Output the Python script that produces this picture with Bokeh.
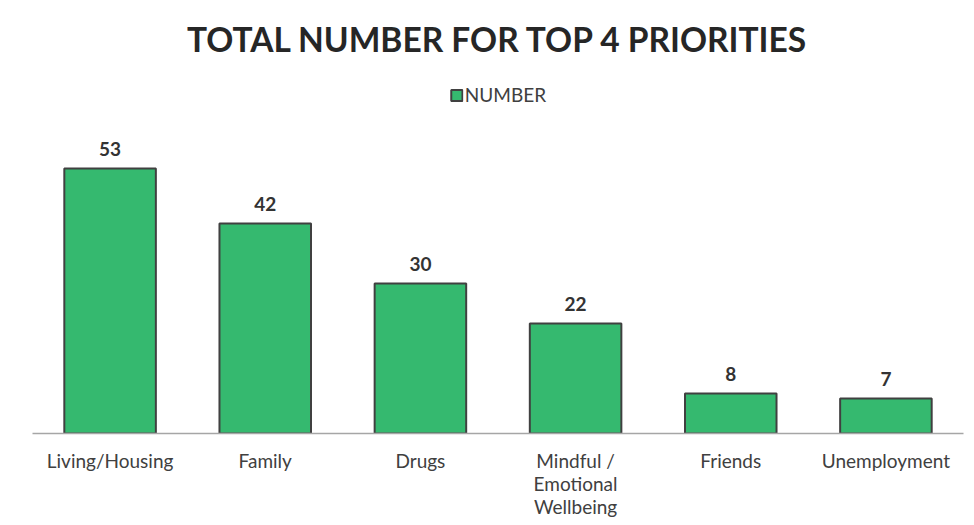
from bokeh.plotting import figure
from bokeh.models import Range1d, FactorRange, Legend, LegendItem, ColumnDataSource, Label
from bokeh.core.properties import value
from bokeh.embed import file_html
from bokeh.resources import INLINE

categories = ["Living/Housing", "Family", "Drugs", "Mindful /\nEmotional\nWellbeing", "Friends", "Unemployment"]
numbers = [53, 42, 30, 22, 8, 7]
series_name = "NUMBER"
title_text = "TOTAL NUMBER FOR TOP 4 PRIORITIES"

FONT = "Lato"
GREEN = "#35b96f"
DARK = "#404040"

src = ColumnDataSource(dict(cat=categories, num=numbers, lbl=[str(v) for v in numbers]))

p = figure(width=972, height=525, x_range=FactorRange(*categories), y_range=Range1d(0, 86.6),
           output_backend="svg", toolbar_location=None,
           min_border_left=32, min_border_right=9, min_border_top=0, min_border_bottom=92)
p.outline_line_color = None
p.background_fill_color = "white"
p.border_fill_color = "white"
p.xgrid.visible = False
p.ygrid.visible = False
p.yaxis.visible = False

r = p.vbar(x="cat", top="num", width=0.59, source=src, fill_color=GREEN,
           line_color=DARK, line_width=2)

p.text(x="cat", y="num", text="lbl", source=src, y_offset=-13,
       text_align="center", text_baseline="bottom",
       text_font=value(FONT), text_font_style="bold", text_font_size="19px", text_color="#333333")

ax = p.xaxis[0]
ax.axis_line_color = "#a6a6a6"
ax.axis_line_width = 1.5
ax.major_tick_line_color = None
ax.minor_tick_line_color = None
ax.major_tick_out = 0
ax.major_tick_in = 0
ax.major_label_text_font = FONT
ax.major_label_text_font_size = "19px"
ax.major_label_text_line_height = 1.0
ax.major_label_text_color = DARK
ax.major_label_standoff = 15

legend = Legend(items=[LegendItem(label=series_name, renderers=[r])], location="top_center",
                orientation="horizontal", margin=83, padding=0, border_line_color=None,
                background_fill_alpha=0, glyph_width=14, glyph_height=14, label_standoff=2,
                label_text_font=FONT, label_text_font_size="19px", label_text_color=DARK)
p.add_layout(legend)

p.add_layout(Label(x=465.5, y=395, x_units="screen", y_units="screen", text=title_text,
                   text_align="center", text_baseline="middle", text_font=FONT,
                   text_font_style="bold", text_font_size="33.5px", text_color="#262626"))

open("out.html", "w").write(file_html(p, INLINE))
